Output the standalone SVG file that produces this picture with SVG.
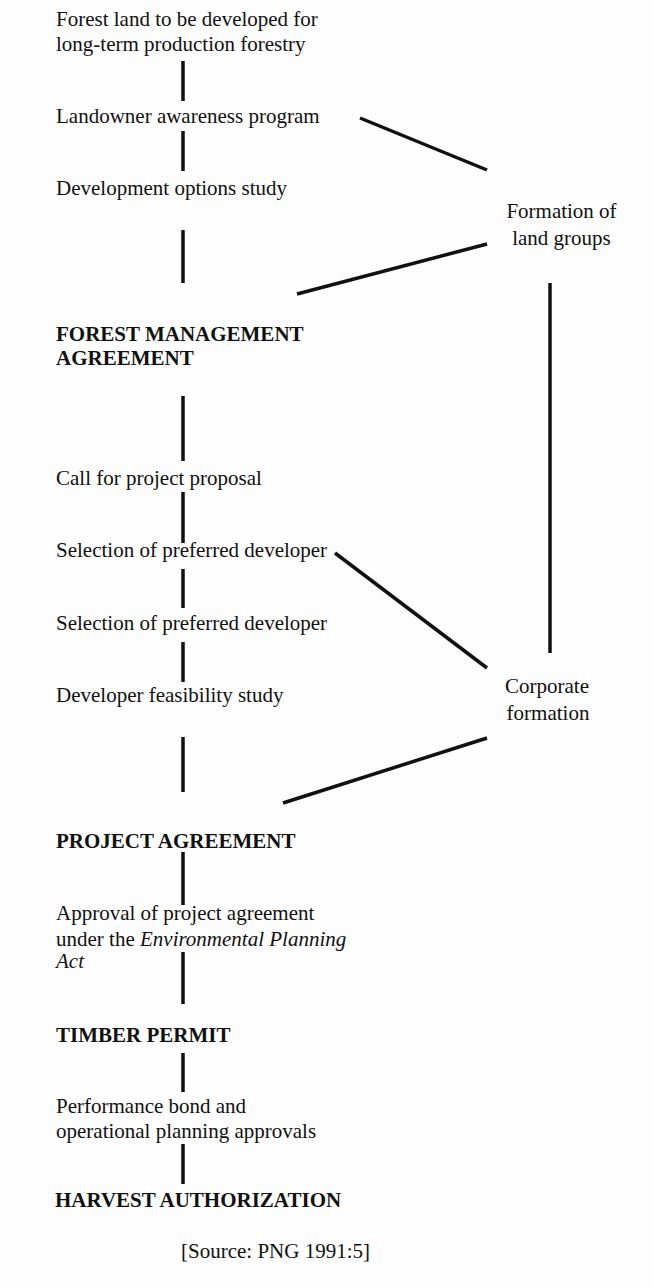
<svg xmlns="http://www.w3.org/2000/svg" width="654" height="1288" viewBox="0 0 654 1288">
<style>
text{font-family:"Liberation Serif","Times New Roman",serif;font-size:21px;fill:#111}
.b{font-weight:bold}
.c{text-anchor:middle}
#connectors line{stroke:#111;stroke-width:3.5;stroke-linecap:butt}
</style>
<rect width="654" height="1288" fill="#fdfdfd"/>
<g id="connectors">
<line x1="183" y1="61" x2="183" y2="101"/>
<line x1="183" y1="131" x2="183" y2="171"/>
<line x1="183" y1="230" x2="183" y2="283"/>
<line x1="183" y1="396" x2="183" y2="461"/>
<line x1="183" y1="492" x2="183" y2="543"/>
<line x1="183" y1="569" x2="183" y2="608"/>
<line x1="183" y1="642" x2="183" y2="682"/>
<line x1="183" y1="737" x2="183" y2="792"/>
<line x1="183" y1="852" x2="183" y2="905"/>
<line x1="183" y1="952" x2="183" y2="1004"/>
<line x1="183" y1="1053" x2="183" y2="1092"/>
<line x1="183" y1="1144" x2="183" y2="1184"/>
<line x1="360" y1="118" x2="487" y2="170"/>
<line x1="487" y1="244" x2="297" y2="294"/>
<line x1="550" y1="283" x2="550" y2="653"/>
<line x1="335" y1="553" x2="487" y2="668"/>
<line x1="487" y1="738" x2="283" y2="803"/>
</g>
<g id="n1"><text x="56" y="26">Forest land to be developed for</text><text x="56" y="51">long-term production forestry</text></g>
<g id="n2"><text x="56" y="123">Landowner awareness program</text></g>
<g id="n3"><text x="56" y="195">Development options study</text></g>
<g id="n4"><text class="c" x="561.5" y="218">Formation of</text><text class="c" x="561.5" y="245">land groups</text></g>
<g id="n5"><text class="b" x="56" y="341">FOREST MANAGEMENT</text><text class="b" x="56" y="365">AGREEMENT</text></g>
<g id="n6"><text x="56" y="485">Call for project proposal</text></g>
<g id="n7"><text x="56" y="557">Selection of preferred developer</text></g>
<g id="n8"><text x="56" y="630">Selection of preferred developer</text></g>
<g id="n9"><text x="56" y="702">Developer feasibility study</text></g>
<g id="n10"><text class="c" x="547" y="693">Corporate</text><text class="c" x="548" y="720">formation</text></g>
<g id="n11"><text class="b" x="56" y="848">PROJECT AGREEMENT</text></g>
<g id="n12"><text x="56" y="920">Approval of project agreement</text><text x="56" y="946">under the <tspan font-style="italic">Environmental Planning</tspan></text><text x="56" y="968" font-style="italic">Act</text></g>
<g id="n13"><text class="b" x="56" y="1042">TIMBER PERMIT</text></g>
<g id="n14"><text x="56" y="1113">Performance bond and</text><text x="56" y="1138">operational planning approvals</text></g>
<g id="n15"><text class="b" x="55" y="1207">HARVEST AUTHORIZATION</text></g>
<g id="src"><text x="181" y="1258">[Source: PNG 1991:5]</text></g>
</svg>
